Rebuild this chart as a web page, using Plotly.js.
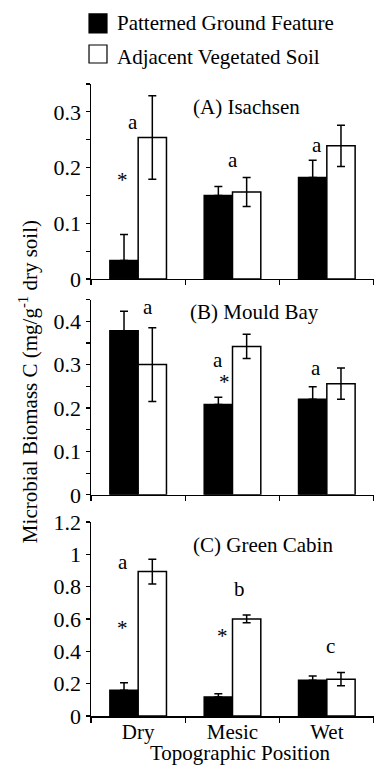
<!DOCTYPE html>
<html>
<head>
<meta charset="utf-8">
<script src="https://cdn.plot.ly/plotly-3.0.1.min.js"></script>
<style>html,body{margin:0;padding:0;background:#fff;}#chart{width:374px;height:765px;}</style>
</head>
<body>
<div id="chart"></div>
<script>
var categories = ['Dry', 'Mesic', 'Wet'];
var seriesNames = ['Patterned Ground Feature', 'Adjacent Vegetated Soil'];

// (A) Isachsen
var isachsenPGF = [0.033, 0.150, 0.182];
var isachsenPGFErr = [0.047, 0.016, 0.031];
var isachsenAVS = [0.254, 0.156, 0.239];
var isachsenAVSErr = [0.075, 0.026, 0.037];

// (B) Mould Bay
var mouldPGF = [0.378, 0.208, 0.220];
var mouldPGFErr = [0.045, 0.017, 0.029];
var mouldAVS = [0.300, 0.342, 0.256];
var mouldAVSErr = [0.085, 0.028, 0.036];

// (C) Green Cabin
var greenPGF = [0.160, 0.118, 0.221];
var greenPGFErr = [0.045, 0.019, 0.027];
var greenAVS = [0.893, 0.600, 0.228];
var greenAVSErr = [0.077, 0.024, 0.041];

var noLowerErr = [0, 0, 0];

var FONT = '"Liberation Serif", "Times New Roman", Times, serif';

function pgfTrace(vals, err, xa, ya) {
  return {
    type: 'bar', x: categories, y: vals, xaxis: xa, yaxis: ya,
    name: seriesNames[0], showlegend: false,
    marker: {color: '#000', line: {color: '#000', width: 1.5}},
    error_y: {type: 'data', array: err, arrayminus: noLowerErr, symmetric: false,
              color: '#000', thickness: 1.5, width: 4},
    hoverinfo: 'skip'
  };
}
function avsTrace(vals, err, xa, ya) {
  return {
    type: 'bar', x: categories, y: vals, xaxis: xa, yaxis: ya,
    name: seriesNames[1], showlegend: false,
    marker: {color: '#fff', line: {color: '#000', width: 1.5}},
    error_y: {type: 'data', array: err, color: '#000', thickness: 1.5, width: 4},
    hoverinfo: 'skip'
  };
}

var data = [
  pgfTrace(isachsenPGF, isachsenPGFErr, 'x', 'y'),
  avsTrace(isachsenAVS, isachsenAVSErr, 'x', 'y'),
  pgfTrace(mouldPGF, mouldPGFErr, 'x2', 'y2'),
  avsTrace(mouldAVS, mouldAVSErr, 'x2', 'y2'),
  pgfTrace(greenPGF, greenPGFErr, 'x3', 'y3'),
  avsTrace(greenAVS, greenAVSErr, 'x3', 'y3')
];

function xAxis(anchor, labels) {
  return {
    type: 'category', domain: [0, 1], anchor: anchor, range: [-0.5, 2.5],
    showline: true, linecolor: '#000', linewidth: 1.5,
    ticks: 'outside', tickson: 'boundaries', ticklen: 5, tickwidth: 1.2, tickcolor: '#000',
    ticklabelstandoff: -4,
    showgrid: false, zeroline: false, showticklabels: labels,
    tickfont: {family: FONT, size: 21, color: '#000'}, fixedrange: true
  };
}
function yAxis(anchor, dom, rng, dt, minorDt) {
  var ax = {
    domain: dom, anchor: anchor, range: rng, dtick: dt, tick0: 0,
    showline: true, linecolor: '#000', linewidth: 1.5,
    ticks: 'outside', ticklen: 4, tickwidth: 1.2, tickcolor: '#000',
    showgrid: false, zeroline: false,
    tickfont: {family: FONT, size: 22, color: '#000'}, fixedrange: true
  };
  if (minorDt) {
    ax.minor = {dtick: minorDt, ticks: 'outside', ticklen: 4, tickwidth: 1.2, tickcolor: '#000', showgrid: false};
  }
  return ax;
}

function txt(text, x, y, xref, yref, size) {
  return {text: text, x: x, y: y, xref: xref, yref: yref, showarrow: false,
          font: {family: FONT, size: size || 21, color: '#000'}, xanchor: 'center', yanchor: 'middle'};
}

var annotations = [
  txt('(A) Isachsen', 1.153, 0.308, 'x', 'y'),
  txt('a', -0.055, 0.281, 'x', 'y'),
  txt('*', -0.161, 0.177, 'x', 'y'),
  txt('a', 1.005, 0.214, 'x', 'y'),
  txt('a', 1.895, 0.241, 'x', 'y'),

  txt('(B) Mould Bay', 1.228, 0.421, 'x2', 'y2'),
  txt('a', 0.104, 0.433, 'x2', 'y2'),
  txt('a', 0.846, 0.311, 'x2', 'y2'),
  txt('*', 0.910, 0.260, 'x2', 'y2'),
  txt('a', 1.885, 0.292, 'x2', 'y2'),

  txt('(C) Green Cabin', 1.323, 1.059, 'x3', 'y3'),
  txt('a', -0.161, 0.952, 'x3', 'y3'),
  txt('*', -0.161, 0.545, 'x3', 'y3'),
  txt('b', 1.069, 0.785, 'x3', 'y3'),
  txt('*', 0.899, 0.495, 'x3', 'y3'),
  txt('c', 2.044, 0.433, 'x3', 'y3'),

  txt('Topographic Position', 0.5265, -0.058, 'paper', 'paper'),
  {text: 'Microbial Biomass C (mg/g<sup>-1</sup> dry soil)', x: -0.221, y: 0.529,
   xref: 'paper', yref: 'paper', showarrow: false, textangle: -90,
   font: {family: FONT, size: 21, color: '#000'}, xanchor: 'center', yanchor: 'middle'},

  {text: seriesNames[0], x: 0.0848, y: 1.0961, xref: 'paper', yref: 'paper', showarrow: false,
   font: {family: FONT, size: 21, color: '#000'}, xanchor: 'left', yanchor: 'middle'},
  {text: seriesNames[1], x: 0.0848, y: 1.0422, xref: 'paper', yref: 'paper', showarrow: false,
   font: {family: FONT, size: 21, color: '#000'}, xanchor: 'left', yanchor: 'middle'}
];

var shapes = [
  {type: 'rect', xref: 'paper', yref: 'paper', x0: -0.007, x1: 0.0565, y0: 1.0807, y1: 1.1108,
   fillcolor: '#000', line: {color: '#000', width: 1.2}},
  {type: 'rect', xref: 'paper', yref: 'paper', x0: -0.007, x1: 0.0565, y0: 1.0332, y1: 1.0617,
   fillcolor: '#fff', line: {color: '#000', width: 1.2}}
];

var layout = {
  width: 374, height: 765,
  margin: {l: 91, r: 0, t: 84, b: 49, pad: 0},
  paper_bgcolor: '#fff', plot_bgcolor: '#fff',
  barmode: 'group', bargap: 0.4, bargroupgap: 0,
  showlegend: false,
  font: {family: FONT, size: 20, color: '#000'},
  xaxis: xAxis('y', false),
  xaxis2: xAxis('y2', false),
  xaxis3: xAxis('y3', true),
  yaxis: yAxis('x', [0.6915, 1.0], [0, 0.35], 0.1, 0.05),
  yaxis2: yAxis('x2', [0.350, 0.659], [0, 0.45], 0.1, 0.05),
  yaxis3: yAxis('x3', [0, 0.307], [0, 1.2], 0.2, null),
  annotations: annotations,
  shapes: shapes
};

Plotly.newPlot('chart', data, layout, {staticPlot: true, displayModeBar: false});
</script>
</body>
</html>
